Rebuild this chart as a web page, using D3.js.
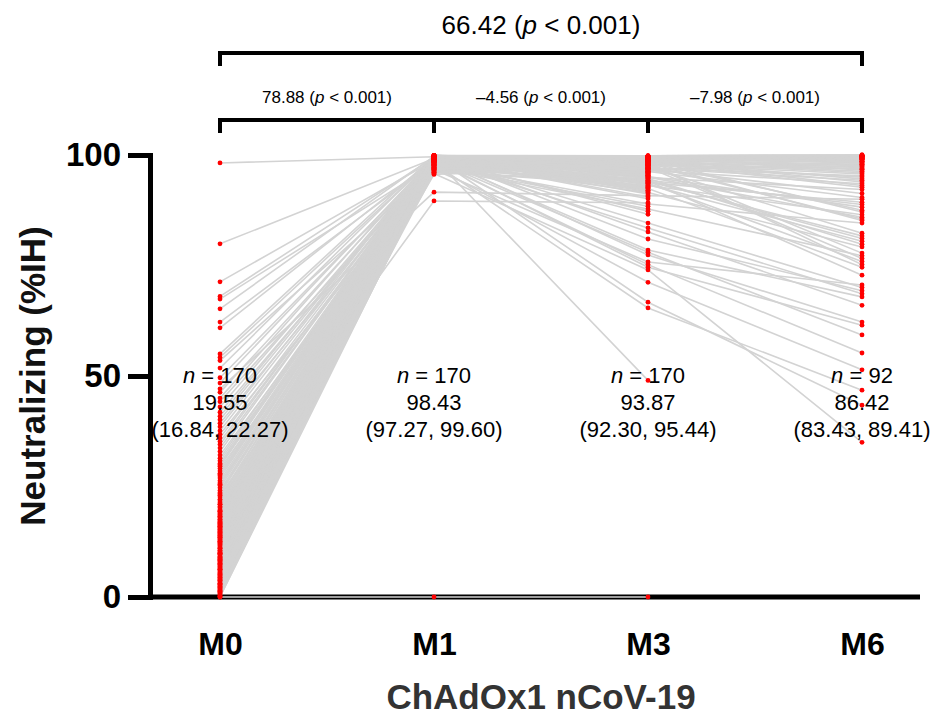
<!DOCTYPE html>
<html>
<head>
<meta charset="utf-8">
<script src="https://cdn.jsdelivr.net/npm/d3@7"></script>
<style>
body { margin: 0; background: #fff; }
svg { font-family: "Liberation Sans", Arial, Helvetica, sans-serif; }
</style>
</head>
<body>
<div id="chart"></div>
<script>
// timepoints and per-subject values (% inhibition), subject i is index i
var timepoints = ["M0", "M1", "M3", "M6"];

var m0 = [
    0, 98.2, 79.9, 71.3, 68.0, 67.4, 65.2, 62.2, 60.9, 55.0,
    54.2, 53.5, 51.8, 49.6, 48.4, 47.1, 46.3, 45.0, 44.2, 43.0,
    41.8, 40.9, 40.1, 39.3, 38.5, 37.6, 36.8, 36.0, 35.2, 34.5,
    33.7, 32.9, 32.1, 31.4, 30.8, 30.2, 29.6, 29.1, 28.5, 28.0,
    27.4, 26.9, 26.3, 25.8, 25.2, 24.7, 24.1, 23.6, 23.0, 22.6,
    22.1, 21.7, 21.3, 20.9, 20.5, 20.2, 29.9, 27.7, 25.5, 23.3,
    21.0, 0, 0.3, 0.5, 0.8, 1.0, 1.2, 1.5, 1.7, 2.0,
    2.2, 2.4, 2.7, 3.0, 3.1, 3.4, 3.6, 3.9, 4.1, 4.3,
    4.6, 4.8, 5.0, 5.3, 5.5, 5.7, 6.0, 6.2, 6.4, 6.7,
    6.9, 7.1, 7.4, 7.6, 7.8, 8.1, 8.3, 8.5, 8.8, 9.0,
    9.2, 9.5, 9.7, 9.9, 10.2, 10.4, 10.6, 10.9, 11.1, 11.3,
    11.6, 11.8, 12.0, 12.3, 12.5, 12.7, 13.0, 13.2, 13.4, 13.7,
    13.9, 14.1, 14.4, 14.6, 14.8, 15.1, 15.3, 15.5, 15.8, 16.0,
    16.2, 16.5, 16.7, 16.9, 17.2, 17.4, 17.6, 17.9, 18.1, 18.3,
    18.6, 18.8, 19.0, 19.3, 19.5, 19.7, 0.1, 1.3, 2.5, 3.8,
    5.1, 6.3, 7.5, 8.7, 9.9, 11.0, 12.2, 13.5, 14.7, 15.9,
    17.0, 18.2, 19.4, 4.4, 8.4, 12.6, 16.4, 2.9, 10.0, 14.0
];

var m1 = [
    0, 99.6, 99.2, 98.8, 99.5, 97.9, 99.7, 98.4, 99.1, 99.8,
    99.3, 96.8, 99.6, 98.9, 99.4, 91.6, 99.0, 99.7, 97.5, 99.2,
    98.6, 99.8, 99.5, 98.1, 99.9, 99.3, 96.2, 99.6, 98.7, 99.4,
    99.1, 99.8, 97.2, 99.5, 98.9, 99.7, 99.0, 95.8, 99.6, 99.3,
    98.5, 99.9, 99.2, 97.8, 99.7, 99.4, 98.8, 99.6, 89.6, 99.1,
    99.8, 98.3, 99.5, 99.0, 96.5, 99.7, 99.3, 98.6, 99.9, 99.2,
    99.6, 97.6, 99.4, 98.9, 99.8, 99.1, 99.5, 98.2, 99.7, 96.9,
    99.3, 99.9, 98.7, 99.6, 99.0, 97.3, 99.8, 99.4, 98.4, 99.2,
    99.7, 99.5, 96.0, 99.1, 98.9, 99.8, 99.3, 97.7, 99.6, 99.0,
    98.6, 99.9, 99.4, 99.2, 97.1, 99.7, 98.8, 99.5, 99.8, 96.6,
    99.3, 99.1, 98.3, 99.6, 99.9, 97.4, 99.5, 99.0, 98.7, 99.7,
    99.2, 95.6, 99.8, 99.4, 98.5, 99.6, 99.1, 97.9, 99.9, 99.3,
    98.9, 99.7, 99.5, 96.4, 99.0, 99.8, 98.2, 99.4, 99.6, 97.0,
    99.2, 99.9, 98.6, 99.3, 99.7, 97.6, 99.5, 99.1, 98.8, 99.8,
    99.4, 96.7, 99.6, 99.0, 98.4, 99.9, 99.2, 97.2, 99.7, 99.5,
    98.9, 99.3, 99.8, 96.1, 99.6, 99.1, 98.5, 99.4, 99.9, 97.8,
    99.2, 99.7, 98.7, 99.5, 99.0, 96.9, 99.8, 99.3, 98.1, 99.6
];

var m3 = [
    0, 99.5, 97.8, 94.2, 99.1, 92.6, 98.7, 96.3, 99.6, 77.4,
    95.1, 98.9, 99.3, 93.5, 97.2, 90.8, 99.7, 96.8, 88.4, 98.2,
    99.4, 94.7, 97.5, 65.4, 99.0, 95.9, 98.4, 91.7, 99.8, 84.6,
    97.0, 99.2, 93.1, 98.6, 96.1, 99.5, 87.3, 74.0, 98.0, 95.4,
    99.6, 92.0, 97.7, 99.1, 94.9, 98.5, 96.6, 99.3, 89.2, 97.3,
    99.7, 93.8, 98.8, 95.6, 99.0, 91.2, 97.9, 75.2, 99.4, 96.0,
    98.3, 94.4, 99.8, 97.1, 81.0, 99.2, 95.3, 98.6, 92.9, 99.5,
    49.0, 96.9, 99.1, 93.3, 98.1, 97.6, 99.6, 90.1, 98.9, 95.8,
    99.3, 97.4, 94.1, 99.7, 96.4, 98.4, 86.6, 99.0, 66.7, 97.0,
    99.5, 95.0, 98.7, 92.3, 99.2, 96.7, 78.0, 99.8, 97.8, 94.6,
    98.2, 99.4, 91.5, 97.5, 99.1, 71.2, 96.2, 98.8, 93.7, 99.6,
    95.5, 98.0, 82.6, 99.3, 97.2, 94.0, 99.7, 88.9, 98.5, 96.5,
    74.6, 99.0, 97.9, 93.0, 99.5, 95.7, 98.3, 90.5, 99.2, 97.1,
    96.0, 99.8, 94.8, 78.5, 98.6, 99.4, 92.4, 97.6, 99.1, 95.2,
    98.9, 75.8, 99.6, 96.3, 93.9, 98.1, 99.3, 87.8, 97.4, 99.0,
    83.5, 95.9, 99.7, 98.4, 94.3, 97.0, 99.5, 91.9, 98.7, 96.8,
    99.2, 93.6, 98.0, 99.4, 95.4, 97.7, 99.8, 92.7, 98.5, 96.4
];

// null = not sampled at M6
var m6 = [
    null, 98.4, null, 81.1, 99.3, null, 93.9, null, 99.8, 62.2,
    88.2, null, 99.9, null, 76.6, 90.0, null, 97.4, null, 85.2,
    null, 79.8, null, 46.8, 99.1, null, 96.0, null, 100, 70.0,
    94.3, null, 86.5, null, null, 99.6, null, 35.0, 97.8, null,
    99.2, null, 77.8, null, 92.2, null, 98.0, 99.5, null, 82.3,
    null, 89.3, 98.6, null, 99.7, null, null, 55.2, 96.6, null,
    75.2, null, 99.9, null, 69.3, 98.2, null, 93.1, null, 99.0,
    null, 91.3, null, 80.5, null, 96.9, 99.4, null, 87.1, null,
    98.7, null, 72.8, 99.8, null, 94.6, null, null, 43.4, 95.3,
    null, 85.9, 99.0, null, 97.1, null, 59.3, 100, null, null,
    92.7, null, 79.2, null, 98.9, 51.4, null, 97.6, null, null,
    null, 95.7, 66.0, 99.6, null, 81.7, null, 84.6, null, 93.5,
    61.5, null, 95.0, null, 99.8, null, 87.5, null, 99.1, null,
    null, 99.2, null, 67.9, 96.3, null, 74.6, null, 98.5, null,
    97.9, 70.6, null, 90.4, null, null, 99.4, 77.2, null, 99.6,
    68.6, null, 99.7, null, 88.8, null, 98.4, null, 96.8, null,
    null, 75.9, null, 99.3, null, 85.5, 99.9, null, null, null
];

// group summaries: n, mean, 95% CI
var groupN = ["170", "170", "170", "92"];
var groupMean = ["19.55", "98.43", "93.87", "86.42"];
var groupCI = ["(16.84, 22.27)", "(97.27, 99.60)", "(92.30, 95.44)", "(83.43, 89.41)"];

// pairwise mean differences
var compFrom = ["M0", "M1", "M3"];
var compTo = ["M1", "M3", "M6"];
var compDiff = ["78.88", "\u20134.56", "\u20137.98"];
var overallFrom = "M0", overallTo = "M6", overallDiff = "66.42";

var width = 939, height = 716;
var axisX = 150, axisRight = 920;

var x = d3.scalePoint().domain(timepoints).range([220, 862]);
var y = d3.scaleLinear().domain([0, 100]).range([597, 155]);

var svg = d3.select("#chart").append("svg")
    .attr("width", width)
    .attr("height", height);

// x axis baseline
svg.append("line")
    .attr("x1", axisX).attr("x2", axisRight)
    .attr("y1", y(0)).attr("y2", y(0))
    .attr("stroke", "#000")
    .attr("stroke-width", 5);

// y axis
var yAxis = svg.append("g")
    .attr("transform", "translate(" + axisX + ",0)")
    .call(d3.axisLeft(y).tickValues([0, 50, 100]).tickSize(22).tickSizeOuter(0).tickPadding(7));
yAxis.select(".domain")
    .attr("stroke-width", 5)
    .attr("stroke-linecap", "square");
yAxis.selectAll(".tick line").attr("stroke-width", 5);
yAxis.selectAll(".tick text")
    .attr("font-size", 33)
    .attr("font-weight", "bold")
    .attr("fill", "#000")
    .attr("font-family", "'Liberation Sans', Arial, sans-serif");

// x tick labels
var xAxis = svg.append("g")
    .attr("transform", "translate(0," + y(0) + ")")
    .call(d3.axisBottom(x).tickSize(0).tickPadding(35));
xAxis.select(".domain").remove();
xAxis.selectAll(".tick text")
    .attr("font-size", 32)
    .attr("font-weight", "bold")
    .attr("fill", "#000")
    .attr("font-family", "'Liberation Sans', Arial, sans-serif");

// axis titles
svg.append("text")
    .attr("x", (axisX + axisRight) / 2 + 6)
    .attr("y", 709)
    .attr("text-anchor", "middle")
    .attr("font-size", 35)
    .attr("font-weight", "bold")
    .attr("fill", "#333")
    .text("ChAdOx1 nCoV-19");

svg.append("text")
    .attr("transform", "translate(45," + y(50) + ") rotate(-90)")
    .attr("text-anchor", "middle")
    .attr("font-size", 35)
    .attr("font-weight", "bold")
    .attr("fill", "#111")
    .text("Neutralizing (%IH)");

// subject trajectories
var series = [m0, m1, m3, m6];
var subjects = m0.map(function (v, i) {
    return timepoints.map(function (t, j) {
        return { t: t, v: series[j][i] };
    });
});

var line = d3.line()
    .defined(d => d.v != null)
    .x(d => x(d.t))
    .y(d => y(d.v));

svg.append("g")
    .attr("fill", "none")
    .attr("stroke", "#d3d3d3")
    .attr("stroke-width", 1.6)
    .selectAll("path")
    .data(subjects)
    .join("path")
    .attr("d", line);

var points = [];
subjects.forEach(s => s.forEach(d => { if (d.v != null) points.push(d); }));

svg.append("g")
    .attr("fill", "#ff0000")
    .selectAll("circle")
    .data(points)
    .join("circle")
    .attr("cx", d => x(d.t))
    .attr("cy", d => y(d.v))
    .attr("r", 2.4);

// group annotations
var ann = svg.append("g")
    .attr("text-anchor", "middle")
    .attr("font-size", 22)
    .attr("fill", "#000");

timepoints.forEach(function (t, i) {
    var n = ann.append("text").attr("x", x(t)).attr("y", 383);
    n.append("tspan").attr("font-style", "italic").text("n");
    n.append("tspan").text(" = " + groupN[i]);
    ann.append("text").attr("x", x(t)).attr("y", 410).text(groupMean[i]);
    ann.append("text").attr("x", x(t)).attr("y", 437).text(groupCI[i]);
});

// comparison brackets
function pLabel(g, cx, cy, diff, size) {
    var t = g.append("text")
        .attr("x", cx).attr("y", cy)
        .attr("text-anchor", "middle")
        .attr("font-size", size)
        .attr("fill", "#000");
    t.append("tspan").text(diff + " (");
    t.append("tspan").attr("font-style", "italic").text("p");
    t.append("tspan").text(" < 0.001)");
}

var br = svg.append("g")
    .attr("fill", "none")
    .attr("stroke", "#000")
    .attr("stroke-width", 4)
    .attr("stroke-linecap", "square");

var lowY = 120, highY = 53, leg = 11;

br.append("path")
    .attr("d", "M" + x(overallFrom) + "," + (highY + leg) + "V" + highY + "H" + x(overallTo) + "V" + (highY + leg));
pLabel(svg, (x(overallFrom) + x(overallTo)) / 2, 34, overallDiff, 26);

br.append("path")
    .attr("d", "M" + x(timepoints[0]) + "," + (lowY + leg) + "V" + lowY + "H" + x(timepoints[3]) + "V" + (lowY + leg));
br.selectAll("line.mid")
    .data(timepoints.slice(1, 3))
    .join("line")
    .attr("class", "mid")
    .attr("x1", d => x(d)).attr("x2", d => x(d))
    .attr("y1", lowY).attr("y2", lowY + leg);

compFrom.forEach(function (f, i) {
    pLabel(svg, (x(f) + x(compTo[i])) / 2, 103, compDiff[i], 17);
});
</script>
</body>
</html>
